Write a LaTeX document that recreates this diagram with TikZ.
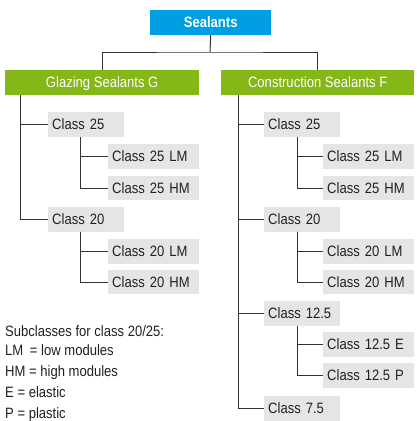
\documentclass[tikz,border=0pt]{standalone}
\usepackage{fontspec}
\setmainfont{Liberation Sans}[FakeStretch=0.87]
\definecolor{skyblue}{HTML}{009FE3}
\definecolor{leafgreen}{HTML}{85B816}
\definecolor{boxgray}{HTML}{E4E5E6}
\definecolor{inkdark}{HTML}{231F20}
\definecolor{linegray}{HTML}{333333}
\begin{document}
\begin{tikzpicture}[x=1pt,y=-1pt,
  basebox/.style={anchor=north west, inner xsep=4pt, inner ysep=0pt, minimum height=24.7pt,
    text height=10.7pt, text depth=0pt, font=\fontsize{15pt}{18pt}\selectfont},
  topbox/.style={basebox, fill=skyblue, text=white, minimum width=121pt, font=\fontsize{15pt}{18pt}\selectfont\bfseries},
  grbox/.style={basebox, fill=leafgreen, text=white},
  clsbox/.style={basebox, fill=boxgray, text=inkdark, text width=68pt, align=left},
  subbox/.style={basebox, fill=boxgray, text=inkdark, text width=83pt, align=left},
  legend/.style={anchor=base west, inner sep=0pt, text=inkdark, font=\fontsize{15pt}{18pt}\selectfont},
  conn/.style={draw=linegray, line width=1pt}]
\useasboundingbox (0,0) rectangle (416,421);

% top and groups
\node[topbox] (seal) at (150,10) {Sealants};
\node[grbox, minimum width=194pt] (glz) at (5,70) {Glazing Sealants G};
\node[grbox, minimum width=193pt] (con) at (221,70) {Construction Sealants F};

% left branch
\node[clsbox] (lc25) at (48,112) {Class 25};
\node[subbox] (l25lm) at (108,144) {Class 25 LM};
\node[subbox] (l25hm) at (108,175.5) {Class 25 HM};
\node[clsbox] (lc20) at (48,207) {Class 20};
\node[subbox] (l20lm) at (108,239) {Class 20 LM};
\node[subbox] (l20hm) at (108,269.5) {Class 20 HM};

% right branch
\node[clsbox] (rc25) at (264,112) {Class 25};
\node[subbox] (r25lm) at (323,144) {Class 25 LM};
\node[subbox] (r25hm) at (323,175.5) {Class 25 HM};
\node[clsbox] (rc20) at (264,207) {Class 20};
\node[subbox] (r20lm) at (323,239) {Class 20 LM};
\node[subbox] (r20hm) at (323,269.5) {Class 20 HM};
\node[clsbox] (rc125) at (264,301) {Class 12.5};
\node[subbox] (r125e) at (323,332) {Class 12.5 E};
\node[subbox] (r125p) at (323,363) {Class 12.5 P};
\node[clsbox] (rc75) at (264,396) {Class 7.5};

% connectors top
\coordinate (j) at (210,52);
\draw[conn] (seal.south) -- (j);
\draw[conn] (glz.north) |- (j) -| (con.north);

% left trunk
\coordinate (tl) at (20,95);
\draw[conn] (tl) |- (lc20.west);
\draw[conn] (tl |- lc25.west) -- (lc25.west);
\coordinate (sl1) at (80,136.7);
\draw[conn] (sl1) |- (l25hm.west);
\draw[conn] (sl1 |- l25lm.west) -- (l25lm.west);
\coordinate (sl2) at (80,231.7);
\draw[conn] (sl2) |- (l20hm.west);
\draw[conn] (sl2 |- l20lm.west) -- (l20lm.west);

% right trunk
\coordinate (tr) at (238,95);
\draw[conn] (tr) |- (rc75.west);
\draw[conn] (tr |- rc25.west) -- (rc25.west);
\draw[conn] (tr |- rc20.west) -- (rc20.west);
\draw[conn] (tr |- rc125.west) -- (rc125.west);
\coordinate (sr1) at (297,136.7);
\draw[conn] (sr1) |- (r25hm.west);
\draw[conn] (sr1 |- r25lm.west) -- (r25lm.west);
\coordinate (sr2) at (297,231.7);
\draw[conn] (sr2) |- (r20hm.west);
\draw[conn] (sr2 |- r20lm.west) -- (r20lm.west);
\coordinate (sr3) at (297,325.7);
\draw[conn] (sr3) |- (r125p.west);
\draw[conn] (sr3 |- r125e.west) -- (r125e.west);

% legend
\node[legend] (lg1) at (5,336) {Subclasses for class 20/25:};
\node[legend] (lg2) at (5,355.5) {LM\hspace{3pt} = low modules};
\node[legend] (lg3) at (5,376) {HM = high modules};
\node[legend] (lg4) at (5,397.5) {E = elastic};
\node[legend] (lg5) at (5,418) {P = plastic};
\end{tikzpicture}
\end{document}
